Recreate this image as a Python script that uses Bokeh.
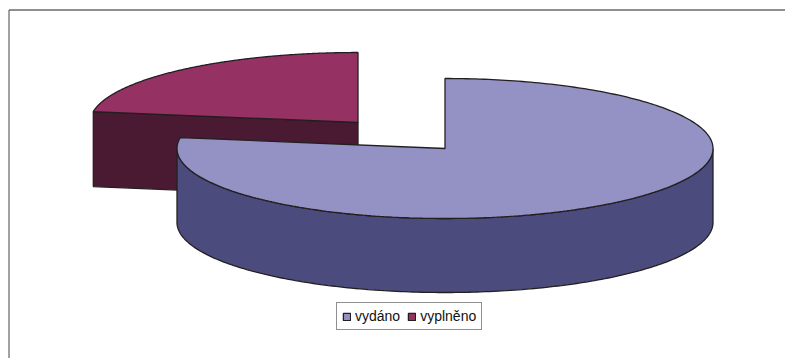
import numpy as np
from bokeh.embed import file_html
from bokeh.models import Legend, LegendItem, Range1d
from bokeh.plotting import figure
from bokeh.resources import INLINE

categories = ["vydáno", "vyplněno"]
values = [77.5, 22.5]

W, H = 785, 358
CX, CY = 444.5, 148.0
RX, RY = 268.0, 70.0
DEPTH = 74.0
EXPLODE = {"vydáno": (0.0, 0.0), "vyplněno": (-87.0, -26.0)}
TOP = {"vydáno": "#9491C5", "vyplněno": "#963263"}
SIDE = {"vydáno": "#4B4B7D", "vyplněno": "#4A1A32"}
EDGE = "#231F20"
LW = 1.3


def rim(theta, cx, cy):
    # theta: radians clockwise from 12 o'clock
    return cx + RX * np.sin(theta), cy - RY * np.cos(theta)


p = figure(width=W, height=H, output_backend="svg", toolbar_location=None,
           x_range=Range1d(0, W), y_range=Range1d(H, 0),
           min_border=0, outline_line_color=None)
p.axis.visible = False
p.grid.visible = False
p.background_fill_color = "white"

# chart-area frame: top and left edges only, the others fall outside the picture
p.line([8.5, W], [9.5, 9.5], line_color=EDGE, line_width=1)
p.line([8.5, 8.5], [9.5, H], line_color="#444444", line_width=1)

fracs = np.array(values) / sum(values)
starts = np.concatenate([[0.0], np.cumsum(fracs)[:-1]]) * 2 * np.pi
ends = np.cumsum(fracs) * 2 * np.pi

renderers = {}
for i in [1, 0]:  # the exploded slice lies behind
    name = categories[i]
    dx, dy = EXPLODE[name]
    cx, cy = CX + dx, CY + dy
    a0, a1 = starts[i], ends[i]

    # leading cut face (visible on the slice that ends at 12 o'clock)
    if name == "vyplněno":
        ex, ey = rim(a0, cx, cy)
        p.patch([ex, cx, cx, ex], [ey, cy, cy + DEPTH + 1, ey + DEPTH + 1],
                fill_color=SIDE[name], line_color=EDGE, line_width=LW)

    # outer wall: only the part of the rim on the front half shows
    lo, hi = max(a0, np.pi / 2), min(a1, 3 * np.pi / 2)
    if hi > lo:
        t = np.linspace(lo, hi, 200)
        rx, ry = rim(t, cx, cy)
        p.patch(np.concatenate([rx, rx[::-1]]),
                np.concatenate([ry, ry[::-1] + DEPTH]),
                fill_color=SIDE[name], line_color=EDGE, line_width=LW)

    # top face
    t = np.linspace(a0, a1, 300)
    rx, ry = rim(t, cx, cy)
    renderers[name] = p.patch(np.concatenate([[cx], rx]), np.concatenate([[cy], ry]),
                              fill_color=TOP[name], line_color=EDGE, line_width=LW)

legend = Legend(
    items=[LegendItem(label=c, renderers=[renderers[c]]) for c in categories],
    orientation="horizontal", location=(336, 28),
    label_text_font="Liberation Sans", label_text_font_size="14px",
    label_text_color="#111111", label_standoff=4, label_height=16,
    glyph_width=9, glyph_height=9, spacing=7, margin=0,
    padding=5, border_line_color=EDGE, border_line_width=1,
    background_fill_color="white", background_fill_alpha=1.0,
)
p.add_layout(legend)

open("out.html", "w").write(file_html(p, INLINE))
